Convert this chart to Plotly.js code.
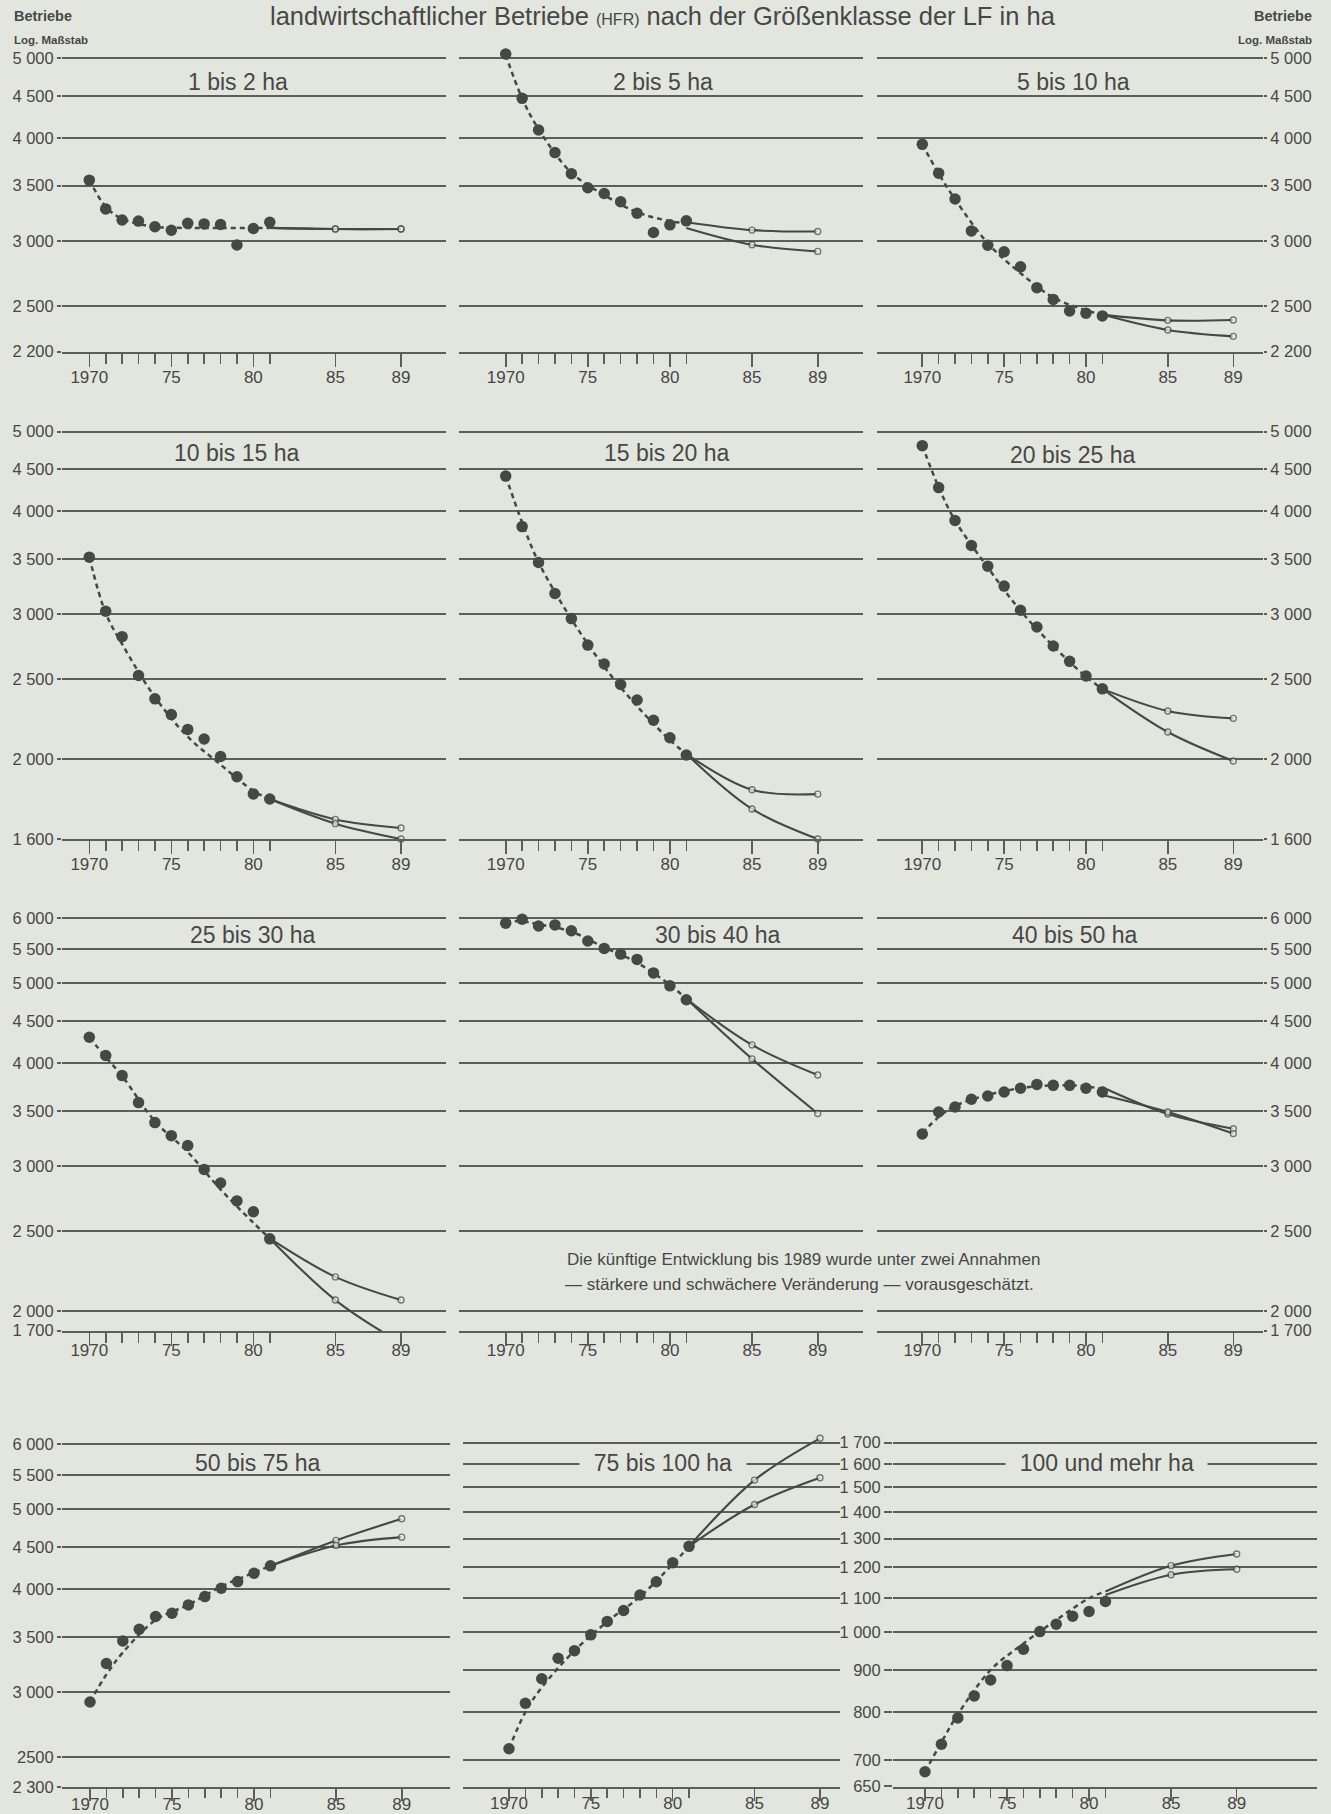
<!DOCTYPE html>
<html>
<head>
<meta charset="utf-8">
<script src="https://cdn.plot.ly/plotly-3.0.1.min.js"></script>
<style>
html,body{margin:0;padding:0;background:#e2e6df;}
#chart{width:1331px;height:1814px;}
</style>
</head>
<body>
<div id="chart"></div>
<script>
// ---------------- DATA ----------------
const years      = [1970,1971,1972,1973,1974,1975,1976,1977,1978,1979,1980,1981];
const trendYears = [1970,1971,1972,1974,1976,1978,1980,1981];
const projYears  = [1981,1985,1989];
const xTickVals  = [1970,1975,1980,1985,1989];
const xTickText  = ['1970','75','80','85','89'];
const xMinorVals = [1971,1972,1973,1974,1976,1977,1978,1979,1981];

// 1 bis 2 ha
const obs_1_2   = [3555,3280,3180,3170,3120,3090,3150,3145,3140,2965,3105,3160];
const trend_1_2 = [3560,3300,3190,3120,3110,3110,3110,3110];
const hi_1_2    = [3110,3100,3100];
const lo_1_2    = [3110,3100,3100];
// 2 bis 5 ha
const obs_2_5   = [5060,4470,4090,3840,3620,3480,3425,3346,3240,3070,3137,3172];
const trend_2_5 = [5050,4470,4100,3630,3410,3250,3170,3150];
const hi_2_5    = [3160,3091,3079];
const lo_2_5    = [3110,2967,2912];
// 5 bis 10 ha
const obs_5_10   = [3930,3625,3372,3084,2963,2909,2789,2631,2546,2465,2450,2431];
const trend_5_10 = [3930,3620,3370,2980,2740,2560,2470,2440];
const hi_5_10    = [2440,2401,2403];
const lo_5_10    = [2440,2337,2296];
// 10 bis 15 ha
const obs_10_15   = [3520,3025,2818,2528,2368,2266,2174,2116,2015,1904,1815,1789];
const trend_10_15 = [3520,3010,2760,2380,2130,1970,1830,1789];
const hi_10_15    = [1789,1690,1650];
const lo_10_15    = [1789,1670,1600];
// 15 bis 20 ha
const obs_15_20   = [4416,3834,3468,3180,2964,2752,2610,2465,2360,2230,2124,2024];
const trend_15_20 = [4416,3880,3470,2960,2590,2320,2110,2030];
const hi_15_20    = [2030,1836,1814];
const lo_15_20    = [2030,1740,1600];
// 20 bis 25 ha
const obs_20_25   = [4808,4276,3900,3636,3432,3246,3034,2895,2745,2630,2524,2435];
const trend_20_25 = [4810,4280,3900,3420,3030,2745,2520,2435];
const hi_20_25    = [2435,2289,2242];
const lo_20_25    = [2435,2158,1990];
// 25 bis 30 ha
const obs_25_30   = [4302,4087,3864,3583,3388,3266,3178,2972,2861,2721,2640,2447];
const trend_25_30 = [4300,4070,3860,3400,3120,2810,2560,2450];
const hi_25_30    = [2450,2200,2062];
const lo_25_30    = [2450,2062,1828];
// 30 bis 40 ha
const obs_30_40   = [5917,5983,5872,5890,5795,5630,5515,5428,5348,5150,4967,4778];
const trend_30_40 = [5940,5950,5900,5780,5530,5300,4980,4790];
const hi_30_40    = [4790,4210,3871];
const lo_30_40    = [4790,4049,3475];
// 40 bis 50 ha
const obs_40_50   = [3281,3490,3539,3617,3650,3690,3730,3770,3760,3760,3730,3690];
const trend_40_50 = [3290,3440,3550,3660,3730,3760,3750,3720];
const hi_40_50    = [3740,3470,3330];
const lo_40_50    = [3660,3490,3285];
// 50 bis 75 ha
const obs_50_75   = [2917,3249,3461,3576,3706,3740,3828,3918,4011,4086,4182,4270];
const trend_50_75 = [2920,3150,3350,3670,3830,4030,4190,4270];
const hi_50_75    = [4270,4585,4871];
const lo_50_75    = [4270,4521,4627];
// 75 bis 100 ha
const obs_75_100   = [722,820,878,930,950,993,1031,1063,1110,1152,1215,1272];
const trend_75_100 = [722,800,857,950,1030,1105,1210,1272];
const hi_75_100    = [1272,1531,1721];
const lo_75_100    = [1272,1430,1541];
// 100 und mehr ha
const obs_100   = [677,731,787,837,875,911,954,1002,1023,1046,1060,1090];
const trend_100 = [677,735,795,900,969,1035,1100,1121];
const hi_100    = [1121,1205,1245];
const lo_100    = [1110,1175,1193];

// y tick values / labels
const yT_r1 = [2200,2500,3000,3500,4000,4500,5000];
const yL_r1 = ['2 200','2 500','3 000','3 500','4 000','4 500','5 000'];
const yT_r2 = [1600,2000,2500,3000,3500,4000,4500,5000];
const yL_r2 = ['1 600','2 000','2 500','3 000','3 500','4 000','4 500','5 000'];
const yT_r3 = [2000,2500,3000,3500,4000,4500,5000,5500,6000];
const yL_r3 = ['2 000','2 500','3 000','3 500','4 000','4 500','5 000','5 500','6 000'];
const yBottomLabel_r3 = '1 700';
const yT_r4a = [2300,2500,3000,3500,4000,4500,5000,5500,6000];
const yL_r4a = ['2 300','2500','3 000','3 500','4 000','4 500','5 000','5 500','6 000'];
const yT_r4b = [650,700,800,900,1000,1100,1200,1300,1400,1500,1600,1700];
const yL_r4b = ['650','700','800','900','1 000','1 100','1 200','1 300','1 400','1 500','1 600','1 700'];

// ---------------- STYLE / GEOMETRY ----------------
const W = 1331, H = 1814, PPD = 824, PAD_TOP = 0.014;
const BG = '#e2e6df', INK = '#474745', GRID = '#5d5e5a';
const FONT = 'Liberation Sans, Arial, sans-serif';

const colA  = {left:62,  right:446,  x70:89.3,  x89:401};
const colB  = {left:459, right:863,  x70:505.7, x89:817.7};
const colC  = {left:877, right:1263, x70:922.3, x89:1233.3};
const colA4 = {left:62,  right:450,  x70:90,    x89:401.7};
const colB4 = {left:463, right:840,  x70:509,   x89:820};
const colC4 = {left:893, right:1317, x70:925,   x89:1236.7};

const r1 = {yTop:58.3,   topVal:5000, botVal:2200, tv:yT_r1, tt:yL_r1, stand:-4,  tl:13};
const r2 = {yTop:431.7,  topVal:5000, botVal:1600, tv:yT_r2, tt:yL_r2, stand:-5,  tl:13};
const r3 = {yTop:918.3,  topVal:6000, yBottom:1331, tv:yT_r3, tt:yL_r3, bottomLabel:yBottomLabel_r3, stand:-10, tl:13};
const r4a= {yTop:1444.3, topVal:6000, botVal:2300, tv:yT_r4a, tt:yL_r4a, stand:-12, tl:12};
const r4b= {yTop:1442.7, topVal:1700, botVal:650,  tv:yT_r4b, tt:yL_r4b, stand:-12, tl:12};

const panels = [
  {title:'1 bis 2 ha',   obs:obs_1_2,   tr:trend_1_2,   hi:hi_1_2,   lo:lo_1_2,   c:colA, r:r1, side:'left',  tx:238, ty:82},
  {title:'2 bis 5 ha',   obs:obs_2_5,   tr:trend_2_5,   hi:hi_2_5,   lo:lo_2_5,   c:colB, r:r1, side:'none',  tx:663, ty:82},
  {title:'5 bis 10 ha',  obs:obs_5_10,  tr:trend_5_10,  hi:hi_5_10,  lo:lo_5_10,  c:colC, r:r1, side:'right', tx:1073, ty:82},
  {title:'10 bis 15 ha', obs:obs_10_15, tr:trend_10_15, hi:hi_10_15, lo:lo_10_15, c:colA, r:r2, side:'left',  tx:237, ty:453},
  {title:'15 bis 20 ha', obs:obs_15_20, tr:trend_15_20, hi:hi_15_20, lo:lo_15_20, c:colB, r:r2, side:'none',  tx:667, ty:453},
  {title:'20 bis 25 ha', obs:obs_20_25, tr:trend_20_25, hi:hi_20_25, lo:lo_20_25, c:colC, r:r2, side:'right', tx:1073, ty:455},
  {title:'25 bis 30 ha', obs:obs_25_30, tr:trend_25_30, hi:hi_25_30, lo:lo_25_30, c:colA, r:r3, side:'left',  tx:253, ty:935},
  {title:'30 bis 40 ha', obs:obs_30_40, tr:trend_30_40, hi:hi_30_40, lo:lo_30_40, c:colB, r:r3, side:'none',  tx:718, ty:935},
  {title:'40 bis 50 ha', obs:obs_40_50, tr:trend_40_50, hi:hi_40_50, lo:lo_40_50, c:colC, r:r3, side:'right', tx:1075, ty:935},
  {title:'50 bis 75 ha', obs:obs_50_75, tr:trend_50_75, hi:hi_50_75, lo:lo_50_75, c:colA4, r:r4a, side:'left', tx:258, ty:1463},
  {title:'75 bis 100 ha',obs:obs_75_100,tr:trend_75_100,hi:hi_75_100,lo:lo_75_100,c:colB4, r:r4b, side:'none', tx:663, ty:1463, bg:true},
  {title:'100 und mehr ha',obs:obs_100, tr:trend_100,   hi:hi_100,   lo:lo_100,   c:colC4, r:r4b, side:'left', tx:1106, ty:1463, bg:true, ticklen:8}
];

const traces = [];
const layout = {
  width: W, height: H,
  margin: {l:0, r:0, t:0, b:0},
  paper_bgcolor: BG, plot_bgcolor: BG,
  showlegend: false,
  font: {family: FONT, color: INK, size: 16},
  annotations: []
};

const px = x => x / W;
const py = y => 1 - y / H;

panels.forEach((p, i) => {
  const n = i + 1;
  const xa = 'x' + (n === 1 ? '' : n), ya = 'y' + (n === 1 ? '' : n);
  const xk = 'xaxis' + (n === 1 ? '' : n), yk = 'yaxis' + (n === 1 ? '' : n);
  const c = p.c, r = p.r;
  const ppy = (c.x89 - c.x70) / 19;
  const xr = [1970 - (c.x70 - c.left) / ppy, 1989 + (c.right - c.x89) / ppy];
  const lt = Math.log10(r.topVal);
  let lb, yBot;
  if (r.botVal) { lb = Math.log10(r.botVal); yBot = r.yTop + (lt - lb) * PPD; }
  else { yBot = r.yBottom; lb = lt - (yBot - r.yTop) / PPD; }
  const yTopDom = r.yTop - PAD_TOP * PPD;
  let tv = r.tv.slice(), tt = r.tt.slice();
  if (r.bottomLabel) { tv.unshift(Math.pow(10, lb)); tt.unshift(r.bottomLabel); }

  layout[xk] = {
    domain: [px(c.left), px(c.right)],
    range: xr, anchor: ya,
    showgrid: false, zeroline: false,
    showline: true, linecolor: GRID, linewidth: 2,
    tickmode: 'array', tickvals: xTickVals, ticktext: xTickText,
    ticks: 'outside', ticklen: r.tl, tickwidth: 1.6, tickcolor: GRID,
    ticklabelstandoff: r.stand,
    tickfont: {family: FONT, size: 17, color: INK},
    minor: {tickmode: 'array', tickvals: xMinorVals, ticks: 'outside', ticklen: r.tl - 3, tickwidth: 1.6, tickcolor: GRID, showgrid: false},
    fixedrange: true
  };
  const yax = {
    type: 'log',
    domain: [py(yBot), py(yTopDom)],
    range: [lb - 0.0006, lt + PAD_TOP],
    anchor: xa,
    showgrid: true, gridcolor: GRID, gridwidth: 2,
    zeroline: false, showline: false,
    tickmode: 'array', tickvals: tv, ticktext: tt,
    tickfont: {family: FONT, size: 16.5, color: INK},
    fixedrange: true
  };
  if (p.side === 'left') {
    Object.assign(yax, {side: 'left', showticklabels: true, ticks: 'outside', ticklen: p.ticklen || 4, tickwidth: 2, tickcolor: GRID});
  } else if (p.side === 'right') {
    Object.assign(yax, {side: 'right', showticklabels: true, ticks: 'outside', ticklen: 3, tickwidth: 2, tickcolor: GRID});
  } else {
    Object.assign(yax, {showticklabels: false, ticks: ''});
  }
  layout[yk] = yax;

  // dashed trend
  traces.push({
    x: trendYears, y: p.tr, xaxis: xa, yaxis: ya, type: 'scatter', mode: 'lines',
    line: {color: INK, width: 2.5, dash: '5px,4px', shape: 'spline', smoothing: 1},
    hoverinfo: 'skip'
  });
  // projections
  [p.hi, p.lo].forEach(arr => {
    traces.push({
      x: projYears, y: arr, xaxis: xa, yaxis: ya, type: 'scatter', mode: 'lines+markers',
      line: {color: INK, width: 2.1, shape: 'spline', smoothing: 1},
      marker: {size: [0, 6, 6], color: '#f2f3f0', line: {color: INK, width: 1.4}},
      cliponaxis: false, hoverinfo: 'skip'
    });
  });
  // observed dots
  traces.push({
    x: years, y: p.obs, xaxis: xa, yaxis: ya, type: 'scatter', mode: 'markers',
    marker: {size: 11.5, color: INK},
    cliponaxis: false, hoverinfo: 'skip'
  });

  const ann = {
    text: p.bg ? '\u00a0\u00a0' + p.title + '\u00a0\u00a0' : p.title,
    xref: 'paper', yref: 'paper', x: px(p.tx), y: py(p.ty),
    xanchor: 'center', yanchor: 'middle', showarrow: false,
    font: {family: FONT, size: 23, color: INK}
  };
  if (p.bg) { ann.bgcolor = BG; ann.borderpad = 1; }
  layout.annotations.push(ann);
});

// header texts
const hdr = (text, x, y, anchor, size, yanchor) => ({
  text, xref: 'paper', yref: 'paper', x: px(x), y: py(y),
  xanchor: anchor, yanchor: yanchor || 'middle', showarrow: false,
  font: {family: FONT, size, color: INK}
});
layout.annotations.push(hdr('<b>Betriebe</b>', 12, 16, 'left', 14.5));
layout.annotations.push(hdr('<b>Log. Maßstab</b>', 12, 40, 'left', 11.5));
layout.annotations.push(hdr('<b>Betriebe</b>', 1314, 16, 'right', 14.5));
layout.annotations.push(hdr('<b>Log. Maßstab</b>', 1314, 40, 'right', 11.5));
layout.annotations.push(hdr('landwirtschaftlicher Betriebe <span style="font-size:16px">(HFR)</span> nach der Größenklasse der LF in ha', 663, 0, 'center', 25.5, 'top'));
layout.annotations.push(hdr('Die künftige Entwicklung bis 1989 wurde unter zwei Annahmen', 803, 1259, 'center', 17));
layout.annotations.push(hdr('— stärkere und schwächere Veränderung — vorausgeschätzt.', 800, 1284, 'center', 17));

Plotly.newPlot('chart', traces, layout, {staticPlot: true, displayModeBar: false});
</script>
</body>
</html>
